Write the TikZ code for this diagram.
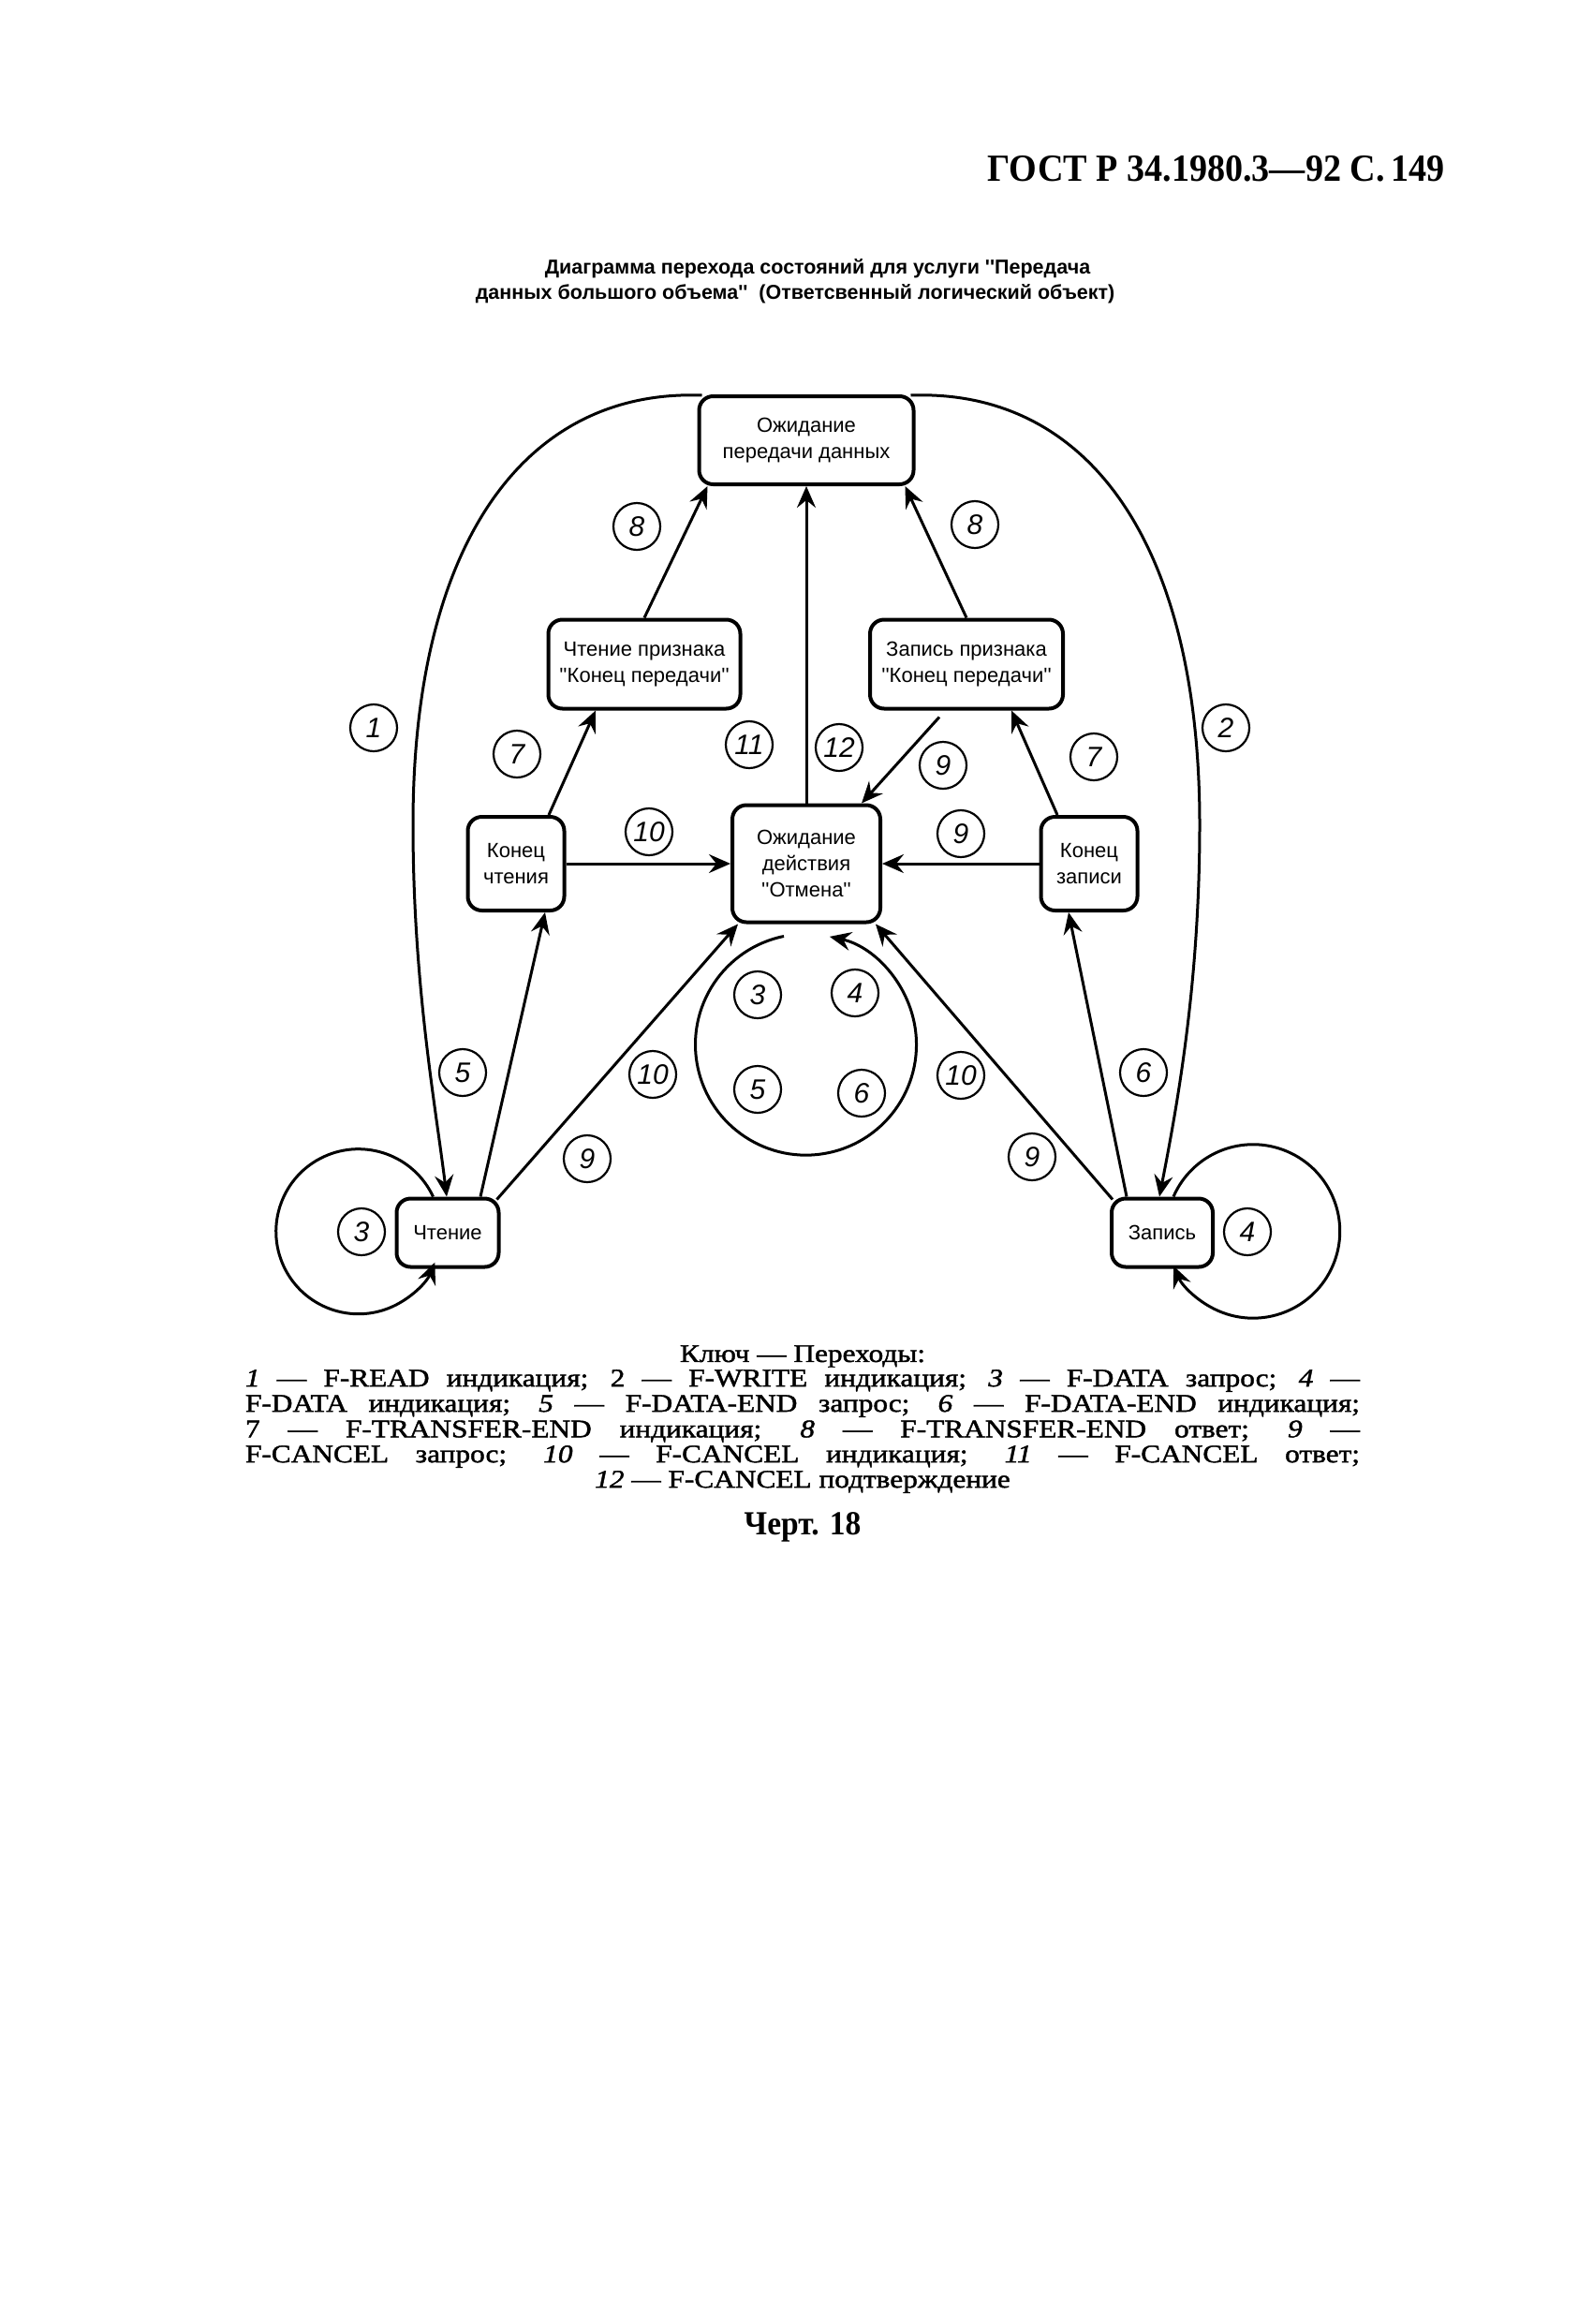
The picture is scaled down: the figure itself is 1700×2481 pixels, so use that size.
\documentclass[tikz,border=0pt]{standalone}
\usepackage{fontspec}
\setmainfont{Liberation Serif}
\newfontfamily\mybxf{Liberation Sans}
\newfontfamily\mynumf{Liberation Sans}
\newfontfamily\mylegf{Liberation Serif}[FakeBold=1.6, FakeStretch=1.16]
\newfontfamily\myhdrf{Liberation Serif}[FakeStretch=0.93]
\usetikzlibrary{arrows.meta,calc}
\begin{document}
\begin{tikzpicture}[x=1pt,y=-1pt,
  state/.style={draw, line width=4pt, rounded corners=15pt, align=center, inner sep=0pt,
    font=\mybxf\fontsize{22}{28}\selectfont},
  lbl/.style={draw, circle, line width=2.2pt, minimum size=50pt, inner sep=0pt,
    font=\mynumf\itshape\fontsize{30}{30}\selectfont},
  conn/.style={line width=3pt, -{Stealth[length=23pt,width=20pt,inset=8pt]}},
  leg/.style={font=\mylegf\fontsize{27}{27}\selectfont, inner sep=0pt},
  ttl/.style={inner sep=0pt, font=\mybxf\bfseries\fontsize{21.5}{28}\selectfont}
]
\fill[white] (0,0) rectangle (1700,2481);
\useasboundingbox (0,0) rectangle (1700,2481);

% header and title
\node[anchor=base east, inner sep=0pt, font=\myhdrf\bfseries\fontsize{41}{41}\selectfont] (hdr) at (1543,193) {ГОСТ Р 34.1980.3—92 С.\,149};
\node[ttl] (title1) at (873,287) {Диаграмма перехода состояний для услуги ''Передача};
\node[ttl] (title2) at (849,314) {данных большого объема''\ \ (Ответсвенный логический объект)};

% states
\node[state, minimum width=229pt, minimum height=94pt] (top) at (861,470) {Ожидание\\передачи данных};
\node[state, minimum width=205pt, minimum height=95pt] (rp) at (688,709) {Чтение признака\\''Конец передачи''};
\node[state, minimum width=206pt, minimum height=95pt] (wp) at (1032,709) {Запись признака\\''Конец передачи''};
\node[state, minimum width=103pt, minimum height=100pt] (rend) at (551,922) {Конец\\чтения};
\node[state, minimum width=158pt, minimum height=125pt] (cancel) at (861,922) {Ожидание\\действия\\''Отмена''};
\node[state, minimum width=103pt, minimum height=100pt] (wend) at (1163,922) {Конец\\записи};
\node[state, minimum width=109pt, minimum height=73pt] (read) at (478,1316) {Чтение};
\node[state, minimum width=108pt, minimum height=73pt] (write) at (1241,1316) {Запись};

% connectors
\draw[conn] (rp.north) -- ($(top.south west)+(11,0)$);
\draw[conn] (wp.north) -- ($(top.south east)+(-11,0)$);
\draw[conn] (cancel.north) -- (top.south);
\draw[conn] ($(wp.south)+(-29,7)$) -- ($(cancel.north east)+(-22,0)$);
\draw[conn] ($(rend.north)+(35,0)$) -- ($(rp.south)+(-52,0)$);
\draw[conn] ($(wend.north)+(-34,0)$) -- ($(wp.south)+(48,0)$);
\draw[conn] (rend.east) -- (cancel.west);
\draw[conn] (wend.west) -- (cancel.east);
\draw[conn] ($(read.north)+(35,0)$) -- ($(rend.south)+(31,0)$);
\draw[conn] ($(read.north east)+(-4,3)$) -- ($(cancel.south west)+(8,0)$);
\draw[conn] ($(write.north west)+(3,3)$) -- ($(cancel.south east)+(-7,0)$);
\draw[conn] ($(write.north)+(-38,0)$) -- ($(wend.south)+(-22,0)$);

% big arcs 1 and 2
\draw[conn] ($(top.north west)+(5,1)$) .. controls (560,415) and (441,580) .. (441,880)
   .. controls (441,1050) and (465,1180) .. ($(read.north)+(-1,0)$);
\draw[conn] ($(top.north east)+(-5,1)$) .. controls (1162,415) and (1281,580) .. (1281,880)
   .. controls (1281,1050) and (1257,1180) .. ($(write.north)+(-3,0)$);

% self loops
\draw[conn] ($(read.north west)+(41,0)$) arc[start angle=-25, end angle=-338, radius=88];
\draw[conn] ($(write.north)+(12,0)$) arc[start angle=-156.5, end angle=156.5, radius=92.7];
\draw[conn] ($(cancel.south)+(-24,13)$) arc[start angle=-101.5, end angle=-437.6, radius=118];

% labels
\node[lbl] (l8a) at (680,562) {8};
\node[lbl] (l8b) at (1041,560) {8};
\node[lbl] (l1) at (399,777) {1};
\node[lbl] (l2) at (1309,777) {2};
\node[lbl] (l7a) at (552,805) {7};
\node[lbl] (l11) at (800,795) {11};
\node[lbl] (l12) at (896,798) {12};
\node[lbl] (l9a) at (1007,817) {9};
\node[lbl] (l7b) at (1168,808) {7};
\node[lbl] (l10a) at (693,888) {10};
\node[lbl] (l9b) at (1026,890) {9};
\node[lbl] (l3i) at (809,1062) {3};
\node[lbl] (l4i) at (913,1060) {4};
\node[lbl] (l5i) at (809,1163) {5};
\node[lbl] (l6i) at (920,1167) {6};
\node[lbl] (l5) at (494,1145) {5};
\node[lbl] (l10b) at (697,1147) {10};
\node[lbl] (l10c) at (1026,1148) {10};
\node[lbl] (l6) at (1221,1145) {6};
\node[lbl] (l9c) at (627,1237) {9};
\node[lbl] (l9d) at (1102,1235) {9};
\node[lbl] (l3) at (386,1315) {3};
\node[lbl] (l4) at (1332,1315) {4};

% legend
\node[leg] (key) at (857,1448) {Ключ — Переходы:};
\node[leg] (k1) at (857,1474) {\makebox[1190pt][s]{\textit{1} — F-READ индикация; 2 — F-WRITE индикация; \textit{3} — F-DATA запрос; \textit{4} —}};
\node[leg] (k2) at (857,1501) {\makebox[1190pt][s]{F-DATA индикация; \textit{5} — F-DATA-END запрос; \textit{6} — F-DATA-END индикация;}};
\node[leg] (k3) at (857,1528) {\makebox[1190pt][s]{7 — F-TRANSFER-END индикация; \textit{8} — F-TRANSFER-END ответ; \textit{9} —}};
\node[leg] (k4) at (857,1555) {\makebox[1190pt][s]{F-CANCEL запрос; \textit{10} — F-CANCEL индикация; \textit{11} — F-CANCEL ответ;}};
\node[leg] (k5) at (857,1582) {\textit{12} — F-CANCEL подтверждение};
\node[font=\myhdrf\bfseries\fontsize{36}{36}\selectfont, inner sep=0pt] (chert) at (857,1630) {Черт. 18};
\end{tikzpicture}
\end{document}
